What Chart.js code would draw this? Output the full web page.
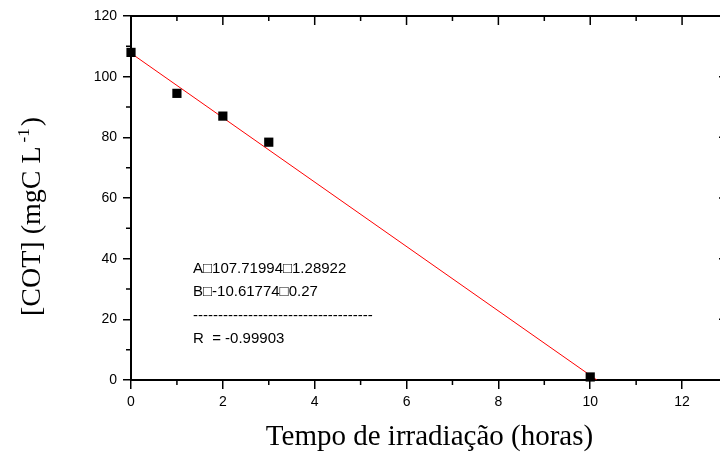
<!DOCTYPE html>
<html>
<head>
<meta charset="utf-8">
<script src="https://cdn.jsdelivr.net/npm/chart.js@4.4.0/dist/chart.umd.min.js"></script>
<style>
  html, body { margin: 0; padding: 0; background: #fff; overflow: hidden; }
  #wrap { width: 720px; height: 455px; overflow: hidden; }
  canvas { display: block; }
</style>
</head>
<body>
<div id="wrap"><canvas id="c" width="740" height="455"></canvas></div>
<script>
// ---- data ----
const timeHours = [0, 1, 2, 3, 10];
const cotValues = [108.0, 94.5, 87.0, 78.4, 1.0];
const fitX = [0, 10.145];
const fitY = [107.72, 0];
const xTickValues = [0, 2, 4, 6, 8, 10, 12];
const xMinorValues = [1, 3, 5, 7, 9, 11];
const yTickValues = [0, 20, 40, 60, 80, 100, 120];
const yMinorValues = [10, 30, 50, 70, 90, 110];
const fitText = ["A\u25A1107.71994\u25A11.28922", "B\u25A1-10.61774\u25A10.27", "------------------------------------", "R  = -0.99903"];
const xTitle = "Tempo de irradia\u00e7\u00e3o (horas)";

const pointsData = timeHours.map((x, i) => ({ x: x, y: cotValues[i] }));
const fitData = fitX.map((x, i) => ({ x: x, y: fitY[i] }));

const framePlugin = {
  id: 'frame',
  afterDraw(chart) {
    const ctx = chart.ctx;
    const xs = chart.scales.x, ys = chart.scales.y;
    const a = chart.chartArea;
    ctx.save();
    ctx.strokeStyle = '#000';
    ctx.lineWidth = 2;
    ctx.beginPath();
    ctx.moveTo(a.left, a.top); ctx.lineTo(a.right, a.top);
    ctx.moveTo(a.right, a.top); ctx.lineTo(a.right, a.bottom);
    ctx.stroke();
    ctx.lineWidth = 1.5;
    ctx.beginPath();
    xMinorValues.forEach(v => { const p = xs.getPixelForValue(v); ctx.moveTo(p, a.bottom); ctx.lineTo(p, a.bottom + 5); });
    yMinorValues.forEach(v => { const p = ys.getPixelForValue(v); ctx.moveTo(a.left, p); ctx.lineTo(a.left - 5, p); });
    xTickValues.forEach(v => { const p = xs.getPixelForValue(v); ctx.moveTo(p, a.top); ctx.lineTo(p, a.top + 9); });
    xMinorValues.forEach(v => { const p = xs.getPixelForValue(v); ctx.moveTo(p, a.top); ctx.lineTo(p, a.top + 5); });
    yTickValues.forEach(v => { const p = ys.getPixelForValue(v); ctx.moveTo(a.right, p); ctx.lineTo(a.right - 9, p); });
    yMinorValues.forEach(v => { const p = ys.getPixelForValue(v); ctx.moveTo(a.right, p); ctx.lineTo(a.right - 5, p); });
    ctx.stroke();

    // annotation text
    ctx.fillStyle = '#000';
    ctx.font = '15px "Liberation Sans", Arial, sans-serif';
    ctx.textBaseline = 'alphabetic';
    ctx.textAlign = 'left';
    const tx = 193;
    const baselines = [273, 296, 320, 343];
    fitText.forEach((t, i) => ctx.fillText(t, tx, baselines[i]));

    // x title
    ctx.font = '29px "Liberation Serif", "Times New Roman", serif';
    ctx.textAlign = 'center';
    ctx.fillText(xTitle, (a.left + a.right) / 2, 445);

    // y title with superscript
    ctx.translate(40, 215);
    ctx.rotate(-Math.PI / 2);
    ctx.textAlign = 'left';
    const mainFont = '28px "Liberation Serif", "Times New Roman", serif';
    const supFont = '17px "Liberation Serif", "Times New Roman", serif';
    const p1 = '[COT] (mgC L ', p2 = '-1', p3 = ')';
    ctx.font = mainFont; const w1 = ctx.measureText(p1).width; const w3 = ctx.measureText(p3).width;
    ctx.font = supFont; const w2 = ctx.measureText(p2).width;
    const total = w1 + w2 + w3 + 2;
    let x0 = -total / 2;
    ctx.font = mainFont; ctx.fillText(p1, x0, 0);
    ctx.font = supFont; ctx.fillText(p2, x0 + w1 - 3, -11);
    ctx.font = mainFont; ctx.fillText(p3, x0 + w1 + w2 - 1, 0);
    ctx.restore();
  }
};

new Chart(document.getElementById('c'), {
  type: 'scatter',
  data: {
    datasets: [
      {
        label: 'fit',
        data: fitData,
        showLine: true,
        borderColor: '#ff0000',
        borderWidth: 1,
        pointRadius: 0,
        fill: false,
        order: 2
      },
      {
        label: 'COT',
        data: pointsData,
        pointStyle: 'rect',
        pointRadius: 6.5,
        backgroundColor: '#000',
        borderColor: '#000',
        borderWidth: 0,
        clip: false,
        order: 1
      }
    ]
  },
  options: {
    responsive: false,
    animation: false,
    events: [],
    layout: { padding: { top: 16, right: 12, left: 0, bottom: 0 } },
    plugins: { legend: { display: false }, tooltip: { enabled: false } },
    scales: {
      x: {
        type: 'linear',
        min: 0, max: 13,
        afterBuildTicks: s => { s.ticks = xTickValues.map(v => ({ value: v })); },
        afterFit: s => { s.height = 75; },
        grid: { drawOnChartArea: false, drawTicks: true, tickLength: 9, color: '#000', lineWidth: 1.5 },
        border: { display: true, color: '#000', width: 2 },
        ticks: { color: '#000', padding: 5, maxRotation: 0, autoSkip: false, font: { family: '"Liberation Sans", Arial, sans-serif', size: 14 } },
        title: { display: false }
      },
      y: {
        type: 'linear',
        min: 0, max: 120,
        afterBuildTicks: s => { s.ticks = yTickValues.map(v => ({ value: v })); },
        afterFit: s => { s.width = 131; },
        grid: { drawOnChartArea: false, drawTicks: true, tickLength: 8, color: '#000', lineWidth: 1.5 },
        border: { display: true, color: '#000', width: 2 },
        ticks: { color: '#000', padding: 6, autoSkip: false, font: { family: '"Liberation Sans", Arial, sans-serif', size: 14 } },
        title: { display: false }
      }
    }
  },
  plugins: [framePlugin]
});
</script>
</body>
</html>
